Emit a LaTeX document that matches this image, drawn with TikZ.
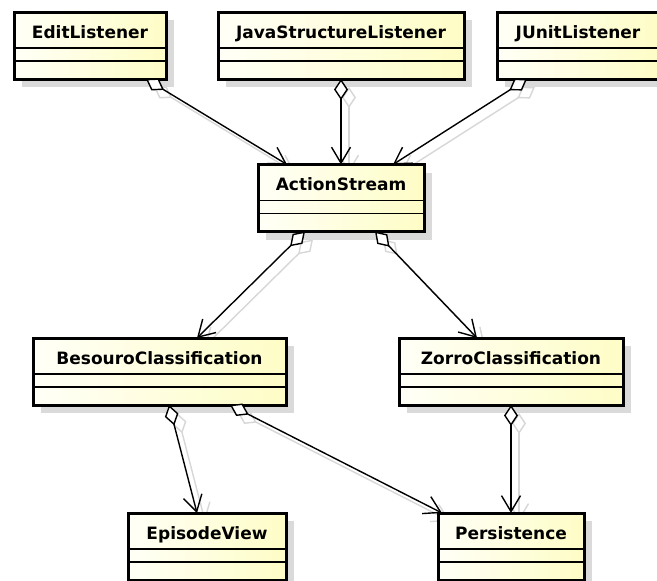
\documentclass[tikz,border=0pt]{standalone}
\usepackage{fontspec}
\newfontfamily\umlfont{DejaVu Sans}
\usetikzlibrary{arrows.meta,calc}
\pgfdeclarelayer{back}
\pgfdeclarelayer{bg}
\pgfsetlayers{back,bg,main}
\definecolor{yl}{RGB}{255,255,247}
\definecolor{yr}{RGB}{254,253,198}
\definecolor{shd}{RGB}{218,218,218}
\definecolor{cshd}{RGB}{215,215,215}
\tikzset{
 umlbox/.style={rectangle, draw=black, line width=3pt, outer sep=0pt, inner sep=0pt, minimum height=67pt, left color=yl, right color=yr},
 umltitle/.style={anchor=base, font=\umlfont\bfseries\fontsize{17}{20}\selectfont, inner sep=0pt},
 sepline/.style={line width=1.1pt},
 conn/.style={line width=1.4pt, {Diamond[length=21pt,width=14pt,fill=white]}-{Straight Barb[length=16pt,width=19pt]}},
 connshadow/.style={line width=1.4pt, draw=cshd, {Diamond[open,length=21pt,width=14pt]}-{Straight Barb[length=16pt,width=19pt]}},
}
\newcommand\umlclass[5]{%
  \begin{pgfonlayer}{bg}
   \fill[shd] (#2-#4/2+8,#3-33.5+8) rectangle (#2+#4/2+8,#3+33.5+8);
  \end{pgfonlayer}
  \node[umlbox, minimum width=#4pt] (#1) at (#2,#3) {};
  \draw[sepline] ([yshift=-36pt]#1.north west) -- ([yshift=-36pt]#1.north east);
  \draw[sepline] ([yshift=-49pt]#1.north west) -- ([yshift=-49pt]#1.north east);
  \node[umltitle] (#1-t) at ([yshift=-26pt]#1.north) {#5};
}
\newcommand\umlconn[2]{%
  \begin{pgfonlayer}{bg}
   \draw[connshadow] ($#1+(8,8)$) -- ($#2+(8,8)$);
  \end{pgfonlayer}
  \draw[conn] ($#1$) -- ($#2$);
}
\begin{document}
\begin{tikzpicture}[x=1pt,y=-1pt]
\useasboundingbox (0,0) rectangle (657,581);
\clip (0,0) rectangle (657,581);
\begin{pgfonlayer}{back}
\fill[white] (0,0) rectangle (657,581);
\end{pgfonlayer}
\umlclass{edit}{90}{45.5}{152}{EditListener}
\umlclass{java}{341}{45.5}{246}{JavaStructureListener}
\umlclass{junit}{578}{45.5}{162}{JUnitListener}
\umlclass{as}{341}{198}{166}{ActionStream}
\umlclass{bes}{159.5}{371.5}{253}{BesouroClassification}
\umlclass{zorro}{511}{371.5}{224}{ZorroClassification}
\umlclass{ep}{207}{546.5}{158}{EpisodeView}
\umlclass{pers}{511}{546.5}{146}{Persistence}
\umlconn{(edit.south west)+(132,0)}{(as.north west)+(29,0)}
\umlconn{(java.south)}{(as.north)}
\umlconn{(junit.south west)+(30,0)}{(as.north west)+(135,0)}
\umlconn{(as.south west)+(47,0)}{(bes.north west)+(164,0)}
\umlconn{(as.south west)+(117,0)}{(zorro.north west)+(78,0)}
\umlconn{(bes.south west)+(136,0)}{(ep.north west)+(69,0)}
\umlconn{(bes.south west)+(197,0)}{(pers.north west)+(4,0)}
\umlconn{(zorro.south)}{(pers.north)}
\end{tikzpicture}
\end{document}
